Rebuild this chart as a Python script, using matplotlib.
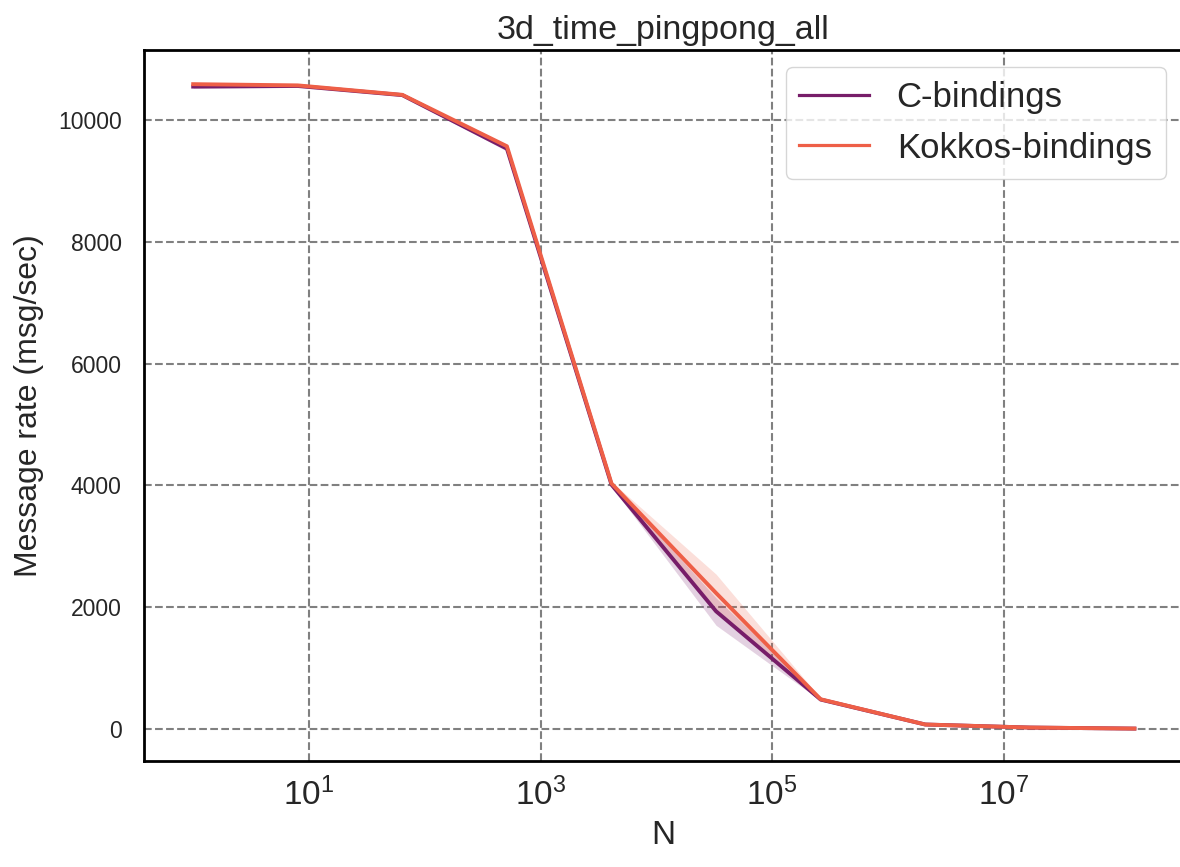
import matplotlib
matplotlib.use("Agg")
import matplotlib.pyplot as plt
import numpy as np

# message sizes N (powers of 8)
N = [1, 8, 64, 512, 4096, 32768, 262144, 2097152, 16777216, 134217728]

# C-bindings: mean and band
c_mean = [10550, 10560, 10410, 9530, 4010, 1930, 480, 70, 20, 3]
c_lo = [10520, 10540, 10395, 9490, 3980, 1700, 465, 65, 18, 2]
c_hi = [10580, 10580, 10425, 9570, 4040, 2150, 495, 75, 22, 4]

# Kokkos-bindings: mean and band
k_mean = [10590, 10570, 10415, 9570, 4030, 2230, 485, 70, 20, 3]
k_lo = [10560, 10550, 10400, 9540, 4000, 1950, 470, 65, 18, 2]
k_hi = [10620, 10590, 10430, 9600, 4060, 2540, 500, 75, 22, 4]

labels = ["C-bindings", "Kokkos-bindings"]
colors = ["#771d69", "#ee5f47"]
xticks = [1e1, 1e3, 1e5, 1e7]

plt.rcParams['font.family'] = ['Liberation Sans', 'DejaVu Sans']
plt.rcParams['mathtext.fontset'] = 'custom'
plt.rcParams['mathtext.rm'] = 'Liberation Sans'
plt.rcParams['mathtext.it'] = 'Liberation Sans:italic'
plt.rcParams['mathtext.bf'] = 'Liberation Sans:bold'

fig = plt.figure(figsize=(11.8, 8.67), dpi=100)
ax = fig.add_axes([0.122, 0.1223, 0.8805, 0.82])

series = [(c_mean, c_lo, c_hi), (k_mean, k_lo, k_hi)]
for (m, lo, hi), lab, col in zip(series, labels, colors):
    ax.fill_between(N, lo, hi, color=col, alpha=0.2, linewidth=0)
    ax.plot(N, m, color=col, lw=2.8, label=lab)

ax.set_xscale('log')
ax.set_xlim(10 ** -0.425, 10 ** 8.547)
ax.set_xticks(xticks)
ax.minorticks_off()

ax.grid(True, color='#808080', linestyle='--', linewidth=1.5)
ax.set_axisbelow(True)

for s in ax.spines.values():
    s.set_color('black')
    s.set_linewidth(2.0)

ax.tick_params(axis='y', length=0, pad=16, labelsize=16.5, colors='#262626')
ax.tick_params(axis='x', length=0, pad=12, labelsize=24, colors='#262626')

ax.set_title('3d_time_pingpong_all', fontsize=24.5, color='#262626', pad=8)
ax.set_xlabel('N', fontsize=24, color='#262626', labelpad=6)
ax.set_ylabel('Message rate (msg/sec)', fontsize=23, color='#262626', labelpad=10)

leg = ax.legend(loc='upper right', fontsize=25, frameon=True, fancybox=True,
                edgecolor='#cccccc', framealpha=0.8, borderaxespad=0.5)
for line in leg.get_lines():
    line.set_linewidth(2.3)
for t in leg.get_texts():
    t.set_color('#262626')

fig.savefig('out.png', dpi=100)
